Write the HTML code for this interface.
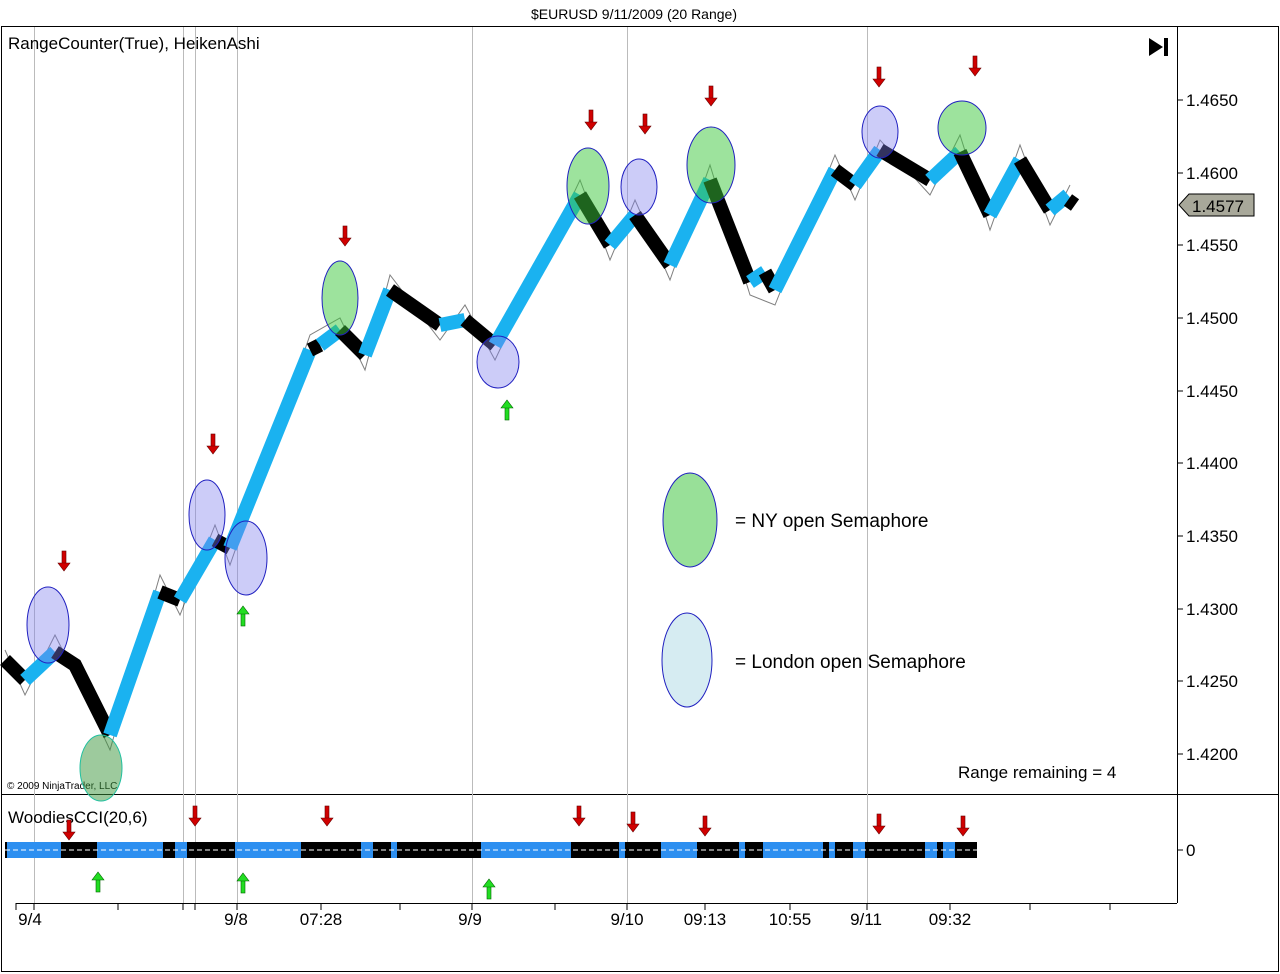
<!DOCTYPE html>
<html><head><meta charset="utf-8"><style>
body{margin:0;background:#fff;width:1280px;height:974px;overflow:hidden}
svg{display:block;font-family:"Liberation Sans",sans-serif}
</style></head><body>
<svg width="1280" height="974" viewBox="0 0 1280 974">
<defs>
<g id="dn"><rect x="-2" y="-12" width="4" height="13" fill="#d00000" stroke="#600" stroke-width="0.6"/><polygon points="-6,0 6,0 0,8" fill="#d00000" stroke="#600" stroke-width="0.6"/></g>
<g id="up"><rect x="-2" y="-1" width="4" height="13" fill="#22dd22" stroke="#060" stroke-width="0.6"/><polygon points="-6,0 6,0 0,-8" fill="#22dd22" stroke="#060" stroke-width="0.6"/></g>
</defs>
<text x="634" y="19" font-size="14" text-anchor="middle" fill="#000">$EURUSD  9/11/2009 (20 Range)</text>
<rect x="1.5" y="26.5" width="1277" height="945" fill="none" stroke="#000"/>
<line x1="1" y1="794.5" x2="1278" y2="794.5" stroke="#000"/>
<line x1="1177.5" y1="26" x2="1177.5" y2="903" stroke="#000"/>
<line x1="16" y1="903.5" x2="1177" y2="903.5" stroke="#000"/>
<g stroke="#bbb" stroke-width="1">
<line x1="34.5" y1="27" x2="34.5" y2="903"/><line x1="183.5" y1="27" x2="183.5" y2="903"/><line x1="195.5" y1="27" x2="195.5" y2="903"/><line x1="237.5" y1="27" x2="237.5" y2="903"/><line x1="472.5" y1="27" x2="472.5" y2="903"/><line x1="627.5" y1="27" x2="627.5" y2="903"/><line x1="867.5" y1="27" x2="867.5" y2="903"/>
</g>
<g stroke="#000"><line x1="16" y1="903" x2="16" y2="910"/><line x1="34" y1="903" x2="34" y2="910"/><line x1="118" y1="903" x2="118" y2="910"/><line x1="183" y1="903" x2="183" y2="910"/><line x1="195" y1="903" x2="195" y2="910"/><line x1="237" y1="903" x2="237" y2="910"/><line x1="321" y1="903" x2="321" y2="910"/><line x1="400" y1="903" x2="400" y2="910"/><line x1="472" y1="903" x2="472" y2="910"/><line x1="555" y1="903" x2="555" y2="910"/><line x1="627" y1="903" x2="627" y2="910"/><line x1="705" y1="903" x2="705" y2="910"/><line x1="790" y1="903" x2="790" y2="910"/><line x1="867" y1="903" x2="867" y2="910"/><line x1="950" y1="903" x2="950" y2="910"/><line x1="1030" y1="903" x2="1030" y2="910"/><line x1="1110" y1="903" x2="1110" y2="910"/></g>
<g font-size="17" text-anchor="middle" fill="#000">
<text x="30" y="925">9/4</text><text x="236" y="925">9/8</text><text x="321" y="925">07:28</text><text x="470" y="925">9/9</text><text x="627" y="925">9/10</text><text x="705" y="925">09:13</text><text x="790" y="925">10:55</text><text x="866" y="925">9/11</text><text x="950" y="925">09:32</text>
</g>
<g font-size="17" fill="#000">
<text x="1186" y="106">1.4650</text><text x="1186" y="179">1.4600</text><text x="1186" y="251">1.4550</text><text x="1186" y="324">1.4500</text><text x="1186" y="397">1.4450</text><text x="1186" y="469">1.4400</text><text x="1186" y="542">1.4350</text><text x="1186" y="615">1.4300</text><text x="1186" y="687">1.4250</text><text x="1186" y="760">1.4200</text><text x="1186" y="856">0</text>
</g>
<g stroke="#000"><line x1="1177" y1="100" x2="1183" y2="100"/><line x1="1177" y1="173" x2="1183" y2="173"/><line x1="1177" y1="245" x2="1183" y2="245"/><line x1="1177" y1="318" x2="1183" y2="318"/><line x1="1177" y1="391" x2="1183" y2="391"/><line x1="1177" y1="463" x2="1183" y2="463"/><line x1="1177" y1="536" x2="1183" y2="536"/><line x1="1177" y1="609" x2="1183" y2="609"/><line x1="1177" y1="681" x2="1183" y2="681"/><line x1="1177" y1="754" x2="1183" y2="754"/><line x1="1177" y1="850" x2="1183" y2="850"/></g>
<polygon points="1179,205 1189,194 1254,194 1254,216 1189,216" fill="#a8a89a" stroke="#000"/>
<text x="1192" y="212" font-size="17" fill="#000">1.4577</text>
<polygon points="1149,38 1149,56 1163,47" fill="#000"/><rect x="1164" y="38" width="4" height="18" fill="#000"/>
<text x="8" y="49" font-size="17" fill="#000">RangeCounter(True), HeikenAshi</text>
<text x="8" y="823" font-size="17" fill="#000">WoodiesCCI(20,6)</text>
<text x="7" y="789" font-size="10" fill="#000">© 2009 NinjaTrader, LLC</text>
<text x="958" y="778" font-size="17" fill="#000">Range remaining = 4</text>
<!-- wick envelope -->
<g stroke="#000" stroke-width="1" fill="none" opacity="0.5">
<polyline points="5,650 25,695 55,635 75,675 110,750 160,575 180,615 215,525 230,565 310,335 340,318 365,370 390,275 440,340 465,305 495,360 580,180 610,260 635,200 670,280 710,165 750,295 775,305 835,155 855,200 880,140 930,195 960,135 990,230 1020,145 1050,225 1070,185"/>
</g>
<!-- price path -->
<g fill="none" stroke-width="14" stroke-linejoin="miter">
<polyline stroke="#000" points="5,660 25,680"/>
<polyline stroke="#1ab2f0" points="25,680 55,652"/>
<polyline stroke="#000" points="55,652 75,665 110,735"/>
<polyline stroke="#1ab2f0" points="110,735 160,592"/>
<polyline stroke="#000" points="160,592 180,600"/>
<polyline stroke="#1ab2f0" points="180,600 215,540"/>
<polyline stroke="#000" points="215,540 230,548"/>
<polyline stroke="#1ab2f0" points="230,548 310,350"/>
<polyline stroke="#000" points="310,350 320,345"/>
<polyline stroke="#1ab2f0" points="320,345 340,330"/>
<polyline stroke="#000" points="340,330 365,355"/>
<polyline stroke="#1ab2f0" points="365,355 390,290"/>
<polyline stroke="#000" points="390,290 440,325"/>
<polyline stroke="#1ab2f0" points="440,325 465,320"/>
<polyline stroke="#000" points="465,320 495,345"/>
<polyline stroke="#1ab2f0" points="495,345 580,195"/>
<polyline stroke="#000" points="580,195 610,245"/>
<polyline stroke="#1ab2f0" points="610,245 635,215"/>
<polyline stroke="#000" points="635,215 670,265"/>
<polyline stroke="#1ab2f0" points="670,265 710,180"/>
<polyline stroke="#000" points="710,180 750,282"/>
<polyline stroke="#1ab2f0" points="750,282 765,272"/>
<polyline stroke="#000" points="765,272 775,290"/>
<polyline stroke="#1ab2f0" points="775,290 835,170"/>
<polyline stroke="#000" points="835,170 855,185"/>
<polyline stroke="#1ab2f0" points="855,185 880,150"/>
<polyline stroke="#000" points="880,150 930,180"/>
<polyline stroke="#1ab2f0" points="930,180 960,152"/>
<polyline stroke="#000" points="960,152 990,215"/>
<polyline stroke="#1ab2f0" points="990,215 1020,160"/>
<polyline stroke="#000" points="1020,160 1050,210"/>
<polyline stroke="#1ab2f0" points="1050,210 1068,195"/>
<polyline stroke="#000" points="1068,200 1075,205"/>
</g>
<!-- ellipses -->
<g fill="#8080ee" fill-opacity="0.4" stroke="#2020c0" stroke-width="1">
<ellipse cx="48" cy="625" rx="21" ry="38"/><ellipse cx="207" cy="515" rx="18" ry="35"/><ellipse cx="246" cy="558" rx="21" ry="37"/><ellipse cx="498" cy="362" rx="21" ry="26"/><ellipse cx="639" cy="187" rx="18" ry="28"/><ellipse cx="880" cy="132" rx="18" ry="26"/>
</g>
<g fill="#3cc83c" fill-opacity="0.5" stroke="#2020c0" stroke-width="1">
<ellipse cx="340" cy="298" rx="18" ry="37"/><ellipse cx="588" cy="186" rx="21" ry="38"/><ellipse cx="711" cy="165" rx="24" ry="38"/><ellipse cx="962" cy="128" rx="24" ry="27"/>
</g>
<ellipse cx="101" cy="768" rx="21" ry="33" fill="#3c963c" fill-opacity="0.5" stroke="#20c0a0"/>
<ellipse cx="690" cy="520" rx="27" ry="47" fill="#98e098" stroke="#2020c0"/>
<ellipse cx="687" cy="660" rx="25" ry="47" fill="#d6ecf2" stroke="#2020c0"/>
<text x="735" y="527" font-size="19" fill="#000">= NY open Semaphore</text>
<text x="735" y="668" font-size="19" fill="#000">= London open Semaphore</text>
<use href="#dn" x="64" y="563"/><use href="#dn" x="213" y="446"/><use href="#dn" x="345" y="238"/><use href="#dn" x="591" y="122"/><use href="#dn" x="645" y="126"/><use href="#dn" x="711" y="98"/><use href="#dn" x="879" y="79"/><use href="#dn" x="975" y="68"/>
<use href="#up" x="243" y="614"/><use href="#up" x="507" y="408"/>
<rect x="5" y="842" width="972" height="16" fill="#000"/>
<g fill="#2d8ff0">
<rect x="7" y="842" width="54" height="16"/><rect x="97" y="842" width="66" height="16"/><rect x="175" y="842" width="12" height="16"/><rect x="235" y="842" width="66" height="16"/><rect x="361" y="842" width="12" height="16"/><rect x="391" y="842" width="6" height="16"/><rect x="481" y="842" width="90" height="16"/><rect x="619" y="842" width="6" height="16"/><rect x="661" y="842" width="36" height="16"/><rect x="739" y="842" width="6" height="16"/><rect x="763" y="842" width="60" height="16"/><rect x="829" y="842" width="6" height="16"/><rect x="853" y="842" width="12" height="16"/><rect x="925" y="842" width="12" height="16"/><rect x="943" y="842" width="12" height="16"/>
</g>
<line x1="5" y1="850" x2="977" y2="850" stroke="#fff" stroke-dasharray="5 3"/>
<use href="#dn" x="69" y="832"/><use href="#dn" x="195" y="818"/><use href="#dn" x="327" y="818"/><use href="#dn" x="579" y="818"/><use href="#dn" x="633" y="824"/><use href="#dn" x="705" y="828"/><use href="#dn" x="879" y="826"/><use href="#dn" x="963" y="828"/>
<use href="#up" x="98" y="880"/><use href="#up" x="243" y="881"/><use href="#up" x="489" y="887"/>
</svg>
</body></html>
